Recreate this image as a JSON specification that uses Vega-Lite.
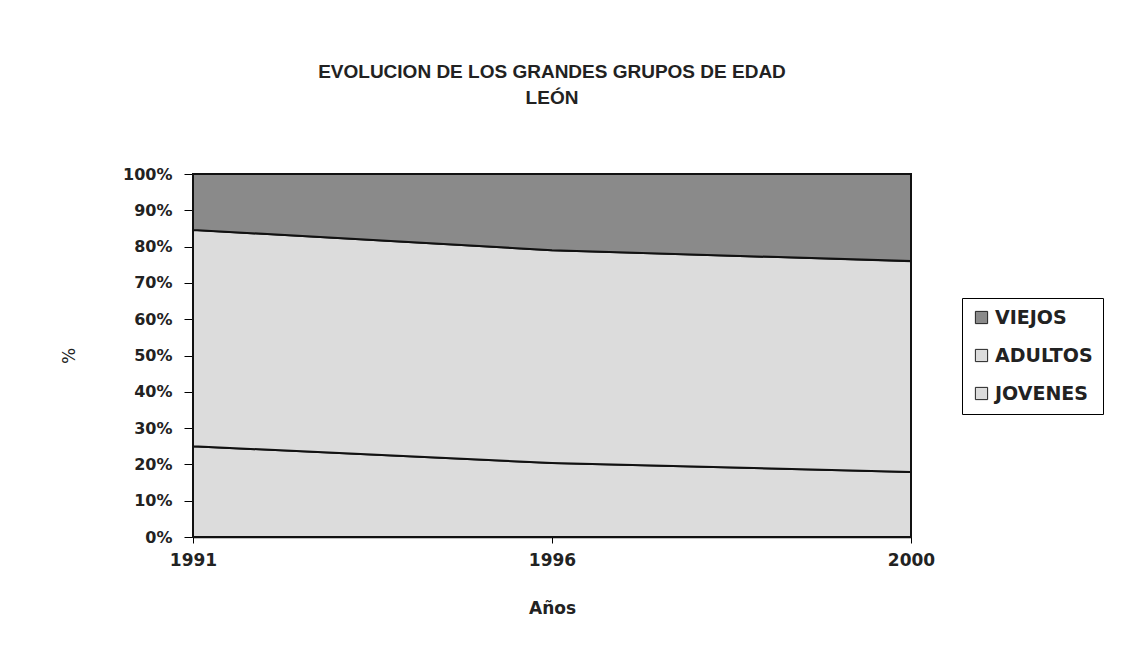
{
  "$schema": "https://vega.github.io/schema/vega-lite/v6.json",
  "autosize": {"type": "none"},
  "width": 718,
  "height": 363,
  "padding": {"left": 193, "top": 174, "right": 214, "bottom": 113},
  "background": "white",
  "title": {
    "text": ["EVOLUCION DE LOS GRANDES GRUPOS DE EDAD", "LEÓN"],
    "font": "Liberation Sans",
    "fontSize": 19,
    "fontWeight": "bold",
    "color": "#222222",
    "lineHeight": 26,
    "anchor": "middle",
    "offset": 58
  },
  "data": {
    "values": [
      {"year": "1991", "group": "JOVENES", "value": 25.0, "ord": 1},
      {"year": "1996", "group": "JOVENES", "value": 20.4, "ord": 1},
      {"year": "2000", "group": "JOVENES", "value": 17.9, "ord": 1},
      {"year": "1991", "group": "ADULTOS", "value": 59.6, "ord": 2},
      {"year": "1996", "group": "ADULTOS", "value": 58.6, "ord": 2},
      {"year": "2000", "group": "ADULTOS", "value": 58.1, "ord": 2},
      {"year": "1991", "group": "VIEJOS", "value": 15.4, "ord": 3},
      {"year": "1996", "group": "VIEJOS", "value": 21.0, "ord": 3},
      {"year": "2000", "group": "VIEJOS", "value": 24.0, "ord": 3}
    ]
  },
  "mark": {"type": "area", "stroke": "#111111", "strokeWidth": 2, "opacity": 1, "interpolate": "linear"},
  "encoding": {
    "x": {
      "field": "year",
      "type": "ordinal",
      "scale": {"type": "point", "padding": 0},
      "axis": {
        "title": "Años",
        "labelAngle": 0,
        "labelFont": "DejaVu Sans",
        "labelFontSize": 17,
        "labelFontWeight": "bold",
        "labelColor": "#222222",
        "labelPadding": 9,
        "tickSize": 6,
        "tickColor": "black",
        "domainColor": "black",
        "domainWidth": 1.5,
        "titleFont": "DejaVu Sans",
        "titleFontSize": 17,
        "titleFontWeight": "bold",
        "titleColor": "#222222",
        "titlePadding": 32,
        "grid": false
      }
    },
    "y": {
      "field": "value",
      "type": "quantitative",
      "stack": "zero",
      "scale": {"domain": [0, 100], "nice": false},
      "axis": {
        "title": "%",
        "values": [0, 10, 20, 30, 40, 50, 60, 70, 80, 90, 100],
        "labelExpr": "datum.value + '%'",
        "labelFont": "DejaVu Sans",
        "labelFontSize": 16,
        "labelFontWeight": "bold",
        "labelColor": "#222222",
        "labelPadding": 12,
        "tickSize": 9,
        "tickColor": "black",
        "domainColor": "black",
        "domainWidth": 1.5,
        "titleFont": "DejaVu Sans",
        "titleFontSize": 17,
        "titleFontWeight": "normal",
        "titleColor": "#222222",
        "titlePadding": 44,
        "grid": false
      }
    },
    "color": {
      "field": "group",
      "type": "nominal",
      "scale": {"domain": ["VIEJOS", "ADULTOS", "JOVENES"], "range": ["#8a8a8a", "#dcdcdc", "#dcdcdc"]},
      "legend": {
        "title": null,
        "orient": "none",
        "legendX": 769,
        "legendY": 124,
        "padding": 10,
        "strokeColor": "black",
        "fillColor": "white",
        "symbolType": "square",
        "symbolSize": 150,
        "symbolStrokeColor": "#222222",
        "symbolStrokeWidth": 1,
        "symbolOpacity": 1,
        "labelFont": "DejaVu Sans",
        "labelFontSize": 19,
        "labelFontWeight": "bold",
        "labelColor": "#222222",
        "labelOffset": 4,
        "rowPadding": 18
      }
    },
    "order": {"field": "ord", "type": "quantitative", "sort": "ascending"}
  },
  "config": {
    "view": {"stroke": "black", "strokeWidth": 1.5}
  }
}
